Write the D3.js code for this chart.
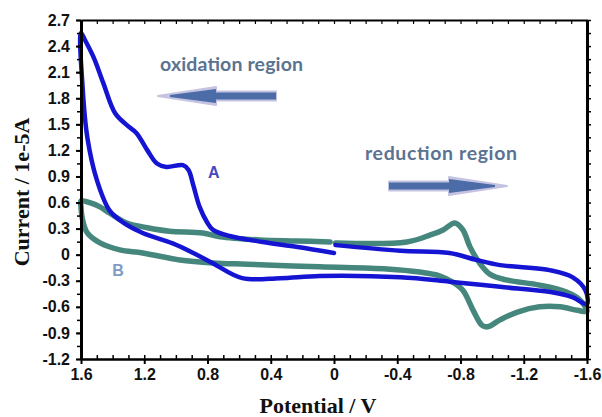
<!DOCTYPE html>
<html lang="en">
<head>
<meta charset="UTF-8"/>
<title>Cyclic voltammogram</title>
<script src="https://d3js.org/d3.v7.min.js"></script>
<style>
  body { margin: 0; background: #fff; }
</style>
</head>
<body>
<script>

// curve A (blue): [potential V, current 1e-5 A], scan order
var curveA = [
  [-0.01, 0.11], [-0.42, 0.045], [-0.73, 0.02], [-0.90, -0.06], [-1.05, -0.12],
  [-1.37, -0.18], [-1.51, -0.26], [-1.59, -0.41], [-1.60, -0.57],
  [-1.51, -0.49], [-1.37, -0.43], [-1.05, -0.37], [-0.73, -0.31], [-0.42, -0.26],
  [0.09, -0.245], [0.34, -0.27], [0.58, -0.27], [0.77, -0.095], [0.89, 0.02],
  [1.02, 0.13], [1.21, 0.25], [1.33, 0.365], [1.42, 0.51], [1.50, 0.86],
  [1.56, 1.35], [1.59, 1.93], [1.60, 2.55],
  [1.575, 2.47], [1.52, 2.27], [1.46, 1.98], [1.385, 1.63], [1.31, 1.49],
  [1.25, 1.40], [1.18, 1.20], [1.12, 1.05], [1.06, 1.01], [0.955, 1.03],
  [0.92, 0.975], [0.89, 0.80], [0.85, 0.55], [0.80, 0.365], [0.765, 0.285],
  [0.66, 0.215], [0.45, 0.146], [0.23, 0.089], [0.0, 0.02]
];

// curve B (green)
var curveB = [
  [-0.01, 0.135], [-0.46, 0.146], [-0.61, 0.227], [-0.69, 0.285], [-0.765, 0.365],
  [-0.815, 0.285], [-0.86, 0.09], [-0.92, -0.095], [-0.99, -0.23], [-1.09, -0.29],
  [-1.30, -0.35], [-1.47, -0.43], [-1.555, -0.52], [-1.60, -0.65],
  [-1.54, -0.64], [-1.43, -0.60], [-1.30, -0.60], [-1.16, -0.66], [-1.05, -0.75],
  [-0.97, -0.83], [-0.935, -0.81], [-0.88, -0.64], [-0.815, -0.41], [-0.75, -0.315],
  [-0.67, -0.245], [-0.54, -0.20], [-0.335, -0.165], [0.09, -0.14], [0.55, -0.11],
  [0.765, -0.095], [0.975, -0.06], [1.21, 0.02], [1.355, 0.055], [1.48, 0.135],
  [1.56, 0.25], [1.59, 0.40], [1.60, 0.55], [1.60, 0.62],
  [1.54, 0.595], [1.48, 0.55], [1.42, 0.48], [1.31, 0.365], [1.18, 0.31],
  [1.04, 0.27], [0.83, 0.25], [0.72, 0.205], [0.47, 0.17], [0.235, 0.158], [0.025, 0.146]
];

var xTicks = [1.6, 1.2, 0.8, 0.4, 0, -0.4, -0.8, -1.2, -1.6];
var yTicks = [2.7, 2.4, 2.1, 1.8, 1.5, 1.2, 0.9, 0.6, 0.3, 0, -0.3, -0.6, -0.9, -1.2];

var w = 602, h = 417;
var plotL = 81, plotR = 587, plotT = 20, plotB = 359;

var x = d3.scaleLinear().domain([1.6, -1.6]).range([plotL, plotR]);
var y = d3.scaleLinear().domain([-1.2, 2.7]).range([plotB, plotT]);

function fmt(d) {
  return d === 0 ? "0" : d3.format(".1f")(d).replace("\u2212", "-");
}

var svg = d3.select("body").append("svg")
  .attr("width", w)
  .attr("height", h);

// curves
var line = d3.line()
  .x(function(d) { return x(d[0]); })
  .y(function(d) { return y(d[1]); })
  .curve(d3.curveCatmullRom.alpha(0.5));

svg.append("path")
  .datum(curveB)
  .attr("d", line)
  .attr("fill", "none")
  .attr("stroke", "#46877d")
  .attr("stroke-width", 5.5)
  .attr("stroke-linejoin", "round")
  .attr("stroke-linecap", "round");

svg.append("path")
  .datum(curveA)
  .attr("d", line)
  .attr("fill", "none")
  .attr("stroke", "#1414d2")
  .attr("stroke-width", 4.5)
  .attr("stroke-linejoin", "round")
  .attr("stroke-linecap", "round");

// axes
var minorX = d3.range(16, -17, -1).map(function(d) { return d / 10; });
var minorY = d3.range(-8, 19, 1).map(function(d) { return d * 0.15; });

svg.append("g")
  .attr("transform", "translate(0," + plotB + ")")
  .call(d3.axisBottom(x).tickValues(minorX).tickSize(-4).tickFormat("").tickSizeOuter(0))
  .call(function(g) { g.select(".domain").remove(); g.selectAll("line").attr("stroke-width", 1.5); });

var xAxis = svg.append("g")
  .attr("transform", "translate(0," + plotB + ")")
  .call(d3.axisBottom(x).tickValues(xTicks).tickSize(5).tickPadding(5).tickSizeOuter(0)
    .tickFormat(fmt));
xAxis.select(".domain").attr("stroke-width", 2.5);
xAxis.selectAll("line").attr("stroke-width", 2);

svg.append("g")
  .attr("transform", "translate(" + plotL + ",0)")
  .call(d3.axisLeft(y).tickValues(minorY).tickSize(4).tickFormat("").tickSizeOuter(0))
  .call(function(g) { g.select(".domain").remove(); g.selectAll("line").attr("stroke-width", 1.5); });

var yAxis = svg.append("g")
  .attr("transform", "translate(" + plotL + ",0)")
  .call(d3.axisLeft(y).tickValues(yTicks).tickSize(5).tickPadding(6).tickSizeOuter(0)
    .tickFormat(fmt));
yAxis.select(".domain").attr("stroke-width", 3);
yAxis.selectAll("line").attr("stroke-width", 2);

svg.append("g")
  .attr("transform", "translate(0," + plotT + ")")
  .call(d3.axisTop(x).tickValues(minorX).tickSize(-4).tickFormat("").tickSizeOuter(0))
  .call(function(g) { g.select(".domain").attr("stroke-width", 2); g.selectAll("line").attr("stroke-width", 1.2); });

svg.append("g")
  .attr("transform", "translate(" + plotR + ",0)")
  .call(d3.axisRight(y).tickValues(minorY).tickSize(4).tickFormat("").tickSizeOuter(0))
  .call(function(g) { g.select(".domain").attr("stroke-width", 3); g.selectAll("line").attr("stroke-width", 1.5); });

svg.selectAll(".tick text")
  .attr("font-family", "Liberation Sans, Arial, sans-serif")
  .attr("font-weight", "bold")
  .attr("font-size", 16)
  .attr("fill", "#111");

// axis titles
svg.append("text")
  .attr("x", (plotL + plotR) / 2 - 16)
  .attr("y", 413)
  .attr("text-anchor", "middle")
  .attr("font-family", "Liberation Serif, Times New Roman, serif")
  .attr("font-weight", "bold")
  .attr("font-size", 22)
  .attr("fill", "#111")
  .text("Potential / V");

svg.append("text")
  .attr("transform", "translate(29,192) rotate(-90)")
  .attr("text-anchor", "middle")
  .attr("font-family", "Liberation Serif, Times New Roman, serif")
  .attr("font-weight", "bold")
  .attr("font-size", 22)
  .attr("fill", "#111")
  .text("Current / 1e-5A");

// curve labels
svg.append("text")
  .attr("x", x(0.76)).attr("y", y(0.95) + 6)
  .attr("text-anchor", "middle")
  .attr("font-family", "Liberation Sans, Arial, sans-serif")
  .attr("font-weight", "bold")
  .attr("font-size", 16)
  .attr("fill", "#4848bc")
  .text("A");

svg.append("text")
  .attr("x", x(1.366)).attr("y", y(-0.176) + 6)
  .attr("text-anchor", "middle")
  .attr("font-family", "Liberation Sans, Arial, sans-serif")
  .attr("font-weight", "bold")
  .attr("font-size", 16)
  .attr("fill", "#7f9bc6")
  .text("B");

// region notes with arrows
function arrow(x0, x1, cy, headLen, dir) {
  // x0 = tail, x1 = tip
  var hb = x1 - dir * headLen;
  var outer = [[x0, cy - 4.5], [hb, cy - 4.5], [hb, cy - 9], [x1, cy], [hb, cy + 9], [hb, cy + 4.5], [x0, cy + 4.5]];
  var inner = [[x0, cy - 3.5], [hb, cy - 3.5], [hb, cy - 7], [x1 - dir * 12, cy - 1], [x1 - dir * 12, cy + 1], [hb, cy + 7], [hb, cy + 3.5], [x0, cy + 3.5]];
  svg.append("polygon")
    .attr("points", outer.map(function(p) { return p.join(","); }).join(" "))
    .attr("fill", "#c5c3e2")
    .attr("stroke", "#c5c3e2")
    .attr("stroke-width", 2)
    .attr("stroke-linejoin", "round");
  svg.append("polygon")
    .attr("points", inner.map(function(p) { return p.join(","); }).join(" "))
    .attr("fill", "#4b6ca6");
}

arrow(276, 158, 96, 58, -1);
arrow(389, 507, 186, 58, 1);

svg.append("text")
  .attr("x", 160).attr("y", 71)
  .attr("font-family", "Lato, Open Sans, sans-serif")
  .attr("font-weight", "bold")
  .attr("font-size", 19.5)
  .attr("textLength", 143)
  .attr("fill", "#5a7391")
  .text("oxidation region");

svg.append("text")
  .attr("x", 365).attr("y", 160)
  .attr("font-family", "Lato, Open Sans, sans-serif")
  .attr("font-weight", "bold")
  .attr("font-size", 19.5)
  .attr("textLength", 152)
  .attr("fill", "#5a7391")
  .text("reduction region");

</script>
</body>
</html>
